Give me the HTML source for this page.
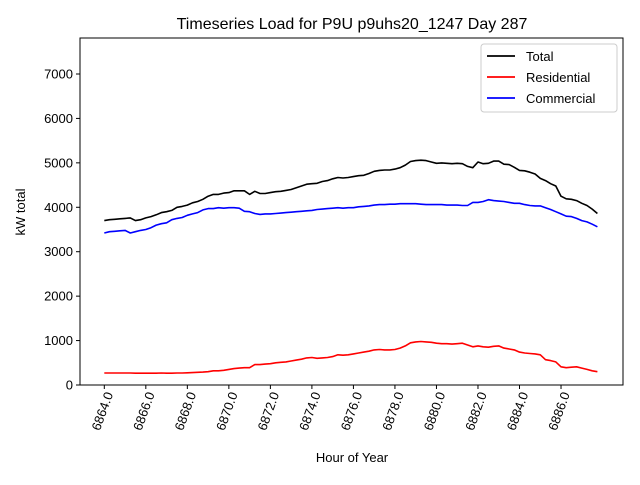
<!DOCTYPE html>
<html><head><meta charset="utf-8"><style>body{margin:0;background:#fff}svg{font-family:"Liberation Sans","DejaVu Sans",sans-serif}</style></head>
<body>
<svg id="chart" width="640" height="480" xmlns="http://www.w3.org/2000/svg"></svg>
<script>
const xTicks=[6864,6866,6868,6870,6872,6874,6876,6878,6880,6882,6884,6886];
const yTicks=[0,1000,2000,3000,4000,5000,6000,7000];
const startHour=6864, stepHour=0.25;
const total=[3700,3720,3730,3740,3750,3760,3700,3720,3760,3790,3830,3880,3900,3930,4000,4020,4050,4100,4130,4180,4250,4290,4290,4320,4330,4370,4370,4370,4290,4360,4310,4310,4330,4350,4360,4380,4400,4440,4480,4520,4530,4540,4580,4600,4640,4670,4660,4670,4690,4710,4720,4760,4810,4830,4840,4840,4860,4890,4950,5030,5050,5060,5050,5020,4990,5000,4990,4980,4990,4980,4920,4890,5020,4980,4990,5040,5040,4970,4960,4900,4830,4820,4790,4750,4650,4600,4530,4480,4250,4190,4180,4150,4090,4040,3960,3860];
const commercial=[3420,3450,3460,3470,3480,3420,3450,3480,3500,3540,3600,3630,3650,3720,3750,3770,3820,3850,3880,3940,3970,3970,3990,3980,3990,3990,3980,3910,3900,3860,3840,3850,3850,3860,3870,3880,3890,3900,3910,3920,3930,3950,3960,3970,3980,3990,3980,3990,3990,4010,4020,4030,4050,4060,4060,4070,4070,4080,4080,4080,4080,4070,4060,4060,4060,4060,4050,4050,4050,4040,4040,4110,4110,4130,4170,4150,4140,4130,4110,4090,4090,4060,4040,4030,4030,3990,3950,3900,3850,3800,3790,3750,3700,3670,3620,3560];
const residential=[270,270,270,270,270,270,265,265,265,265,265,270,265,265,270,270,275,280,285,290,300,320,320,330,350,370,380,390,390,460,460,470,480,500,510,520,540,560,580,610,620,600,610,620,640,680,670,680,700,720,740,760,790,800,790,790,800,830,880,950,970,980,970,960,940,930,930,920,930,940,900,860,880,860,850,870,880,830,810,790,740,720,710,700,680,570,550,520,410,390,400,410,380,350,320,300];
const series=[{name:'total',label:'Total',c:'#000',d:total},{name:'residential',label:'Residential',c:'#f00',d:residential},{name:'commercial',label:'Commercial',c:'#00f',d:commercial}];
const L=80,R=623,T=38,B=385;
const X=h=>104.3+(h-6864)*20.76;
const Y=v=>B-v*0.04443;
const svg=document.getElementById('chart');const NS='http://www.w3.org/2000/svg';
function el(t,a,txt){const e=document.createElementNS(NS,t);for(const k in a)e.setAttribute(k,a[k]);if(txt!=null)e.textContent=txt;svg.appendChild(e);return e;}
let e=el('rect',{x:L,y:T,width:R-L,height:B-T,fill:'#fff',stroke:'#000','stroke-width':1});

e=el('text',{x:352,y:29,'text-anchor':'middle','font-size':16},'Timeseries Load for P9U p9uhs20_1247  Day 287');

for(const v of yTicks){const y=Y(v);
 e=el('line',{x1:L-4,x2:L,y1:y,y2:y,stroke:'#000'});
 e=el('text',{x:L-7,y:y+4.5,'text-anchor':'end','font-size':13},String(v));}
for(const h of xTicks){const x=X(h);
 e=el('line',{x1:x,x2:x,y1:B,y2:B+4,stroke:'#000'});
 e=el('text',{x:x+9,y:B+9,'text-anchor':'end','font-size':13,transform:`rotate(-70 ${x+9} ${B+9})`},h.toFixed(1));}
e=el('text',{x:352,y:462,'text-anchor':'middle','font-size':13},'Hour of Year');
e=el('text',{x:25,y:212,'text-anchor':'middle','font-size':13,transform:'rotate(-90 25 212)'},'kW total');
for(const s of series){const pts=s.d.map((v,i)=>X(startHour+i*stepHour).toFixed(1)+','+Y(v).toFixed(1)).join(' ');
 e=el('polyline',{points:pts,fill:'none',stroke:s.c,'stroke-width':1.6,'stroke-linejoin':'round'});
 }
e=el('rect',{x:481,y:44,width:136,height:68,rx:3,fill:'#fff',stroke:'#ccc'});
series.forEach((s,i)=>{const y=56+i*21;
 e=el('line',{x1:487,x2:515,y1:y,y2:y,stroke:s.c,'stroke-width':1.8});
 e=el('text',{x:526,y:y+5,'font-size':13},s.label);});
</script>
</body></html>
